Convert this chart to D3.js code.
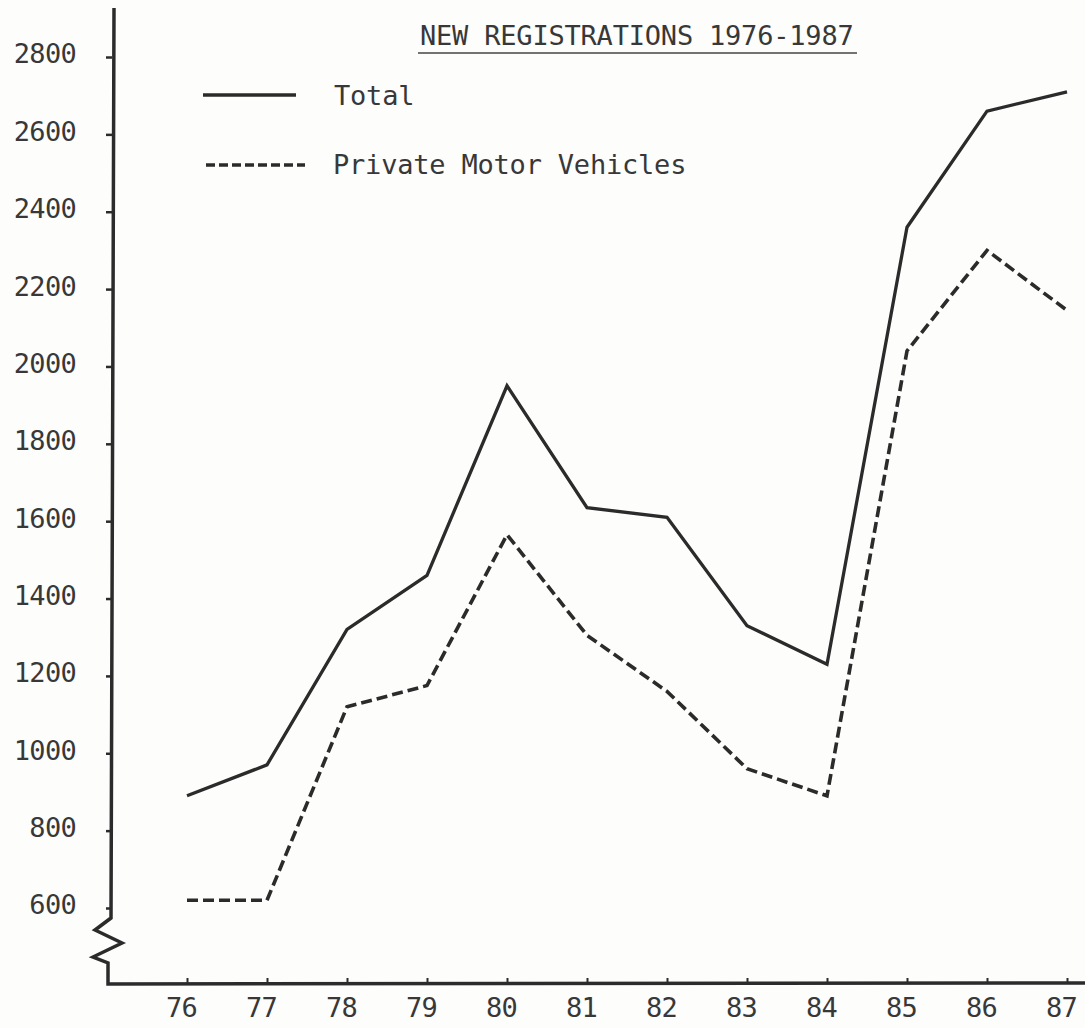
<!DOCTYPE html>
<html>
<head>
<meta charset="utf-8">
<script src="https://cdn.jsdelivr.net/npm/d3@7"></script>
<style>
  html, body { margin: 0; padding: 0; background: #fdfdfc; }
  svg { display: block; }
  text { font-family: "DejaVu Sans Mono", monospace; fill: #383838; }
</style>
</head>
<body>
<svg id="chart" width="1085" height="1028"></svg>
<script>
// ---- Data ----
const years = [76, 77, 78, 79, 80, 81, 82, 83, 84, 85, 86, 87];
const totalValues   = [890, 970, 1320, 1460, 1950, 1635, 1610, 1330, 1230, 2360, 2660, 2710];
const privateValues = [620, 620, 1120, 1175, 1565, 1305, 1160, 960, 890, 2040, 2300, 2145];
const yTickValues = [600, 800, 1000, 1200, 1400, 1600, 1800, 2000, 2200, 2400, 2600, 2800];
const seriesNames = ["Total", "Private Motor Vehicles"];
const titleText = "NEW REGISTRATIONS 1976-1987";

const svg = d3.select("#chart");
const ink = "#2b2b2b";
const fontSize = 27;

const x = d3.scaleLinear().domain([76, 87]).range([187, 1067]);
const y = d3.scaleLinear().domain([600, 2800]).range([908, 57]);

const axisX = 112;
const axisY = 984;

// ---- Title ----
svg.append("text")
  .attr("x", 420).attr("y", 45)
  .attr("font-size", fontSize)
  .attr("letter-spacing", -0.2)
  .text(titleText);
svg.append("line")
  .attr("x1", 418).attr("x2", 857)
  .attr("y1", 53).attr("y2", 53)
  .attr("stroke", "#444").attr("stroke-width", 1.6);

// ---- Axis lines (with break) ----
const yAxisPath = d3.path();
yAxisPath.moveTo(axisX + 2, 8);
yAxisPath.lineTo(axisX - 1, y(600) + 10);
yAxisPath.lineTo(95, y(600) + 22);
yAxisPath.lineTo(122, y(600) + 35);
yAxisPath.lineTo(93, y(600) + 49);
yAxisPath.lineTo(axisX - 4, y(600) + 55);
yAxisPath.lineTo(axisX - 4, axisY);
yAxisPath.lineTo(1085, axisY - 1);
svg.append("path")
  .attr("d", yAxisPath.toString())
  .attr("fill", "none")
  .attr("stroke", ink)
  .attr("stroke-width", 3.5)
  .attr("stroke-linejoin", "miter");

const yAxis = d3.axisLeft(y).tickValues(yTickValues).tickSize(6).tickPadding(30).tickFormat(d3.format("d"));
const gy = svg.append("g").attr("transform", `translate(${axisX},0)`).call(yAxis);
gy.select(".domain").remove();
gy.selectAll(".tick line").attr("stroke", ink).attr("stroke-width", 2.5);
gy.selectAll(".tick text")
  .attr("font-size", fontSize)
  .attr("letter-spacing", -0.7)
  .attr("dy", "0.22em")
  .attr("font-family", "'DejaVu Sans Mono', monospace")
  .attr("fill", "#383838");

// ---- X axis ticks ----
const xAxis = d3.axisBottom(x).tickValues(years).tickSize(-6).tickPadding(14).tickFormat(d => d);
const gx = svg.append("g").attr("transform", `translate(0,${axisY})`).call(xAxis);
gx.select(".domain").remove();
gx.selectAll(".tick line").attr("stroke", ink).attr("stroke-width", 2);
gx.selectAll(".tick text")
  .attr("font-size", fontSize)
  .attr("letter-spacing", -0.7)
  .attr("dx", -6)
  .attr("font-family", "'DejaVu Sans Mono', monospace")
  .attr("fill", "#383838");

// ---- Lines ----
const line = d3.line().x((d, i) => x(years[i])).y(d => y(d));

svg.append("path")
  .datum(totalValues)
  .attr("d", line)
  .attr("fill", "none")
  .attr("stroke", ink)
  .attr("stroke-width", 3.3)
  .attr("stroke-linejoin", "miter");

svg.append("path")
  .datum(privateValues)
  .attr("d", line)
  .attr("fill", "none")
  .attr("stroke", ink)
  .attr("stroke-width", 3.6)
  .attr("stroke-dasharray", "11,5")
  .attr("stroke-linejoin", "miter");

// ---- Legend ----
const legend = svg.append("g");
legend.append("line")
  .attr("x1", 203).attr("x2", 296).attr("y1", 95).attr("y2", 95)
  .attr("stroke", ink).attr("stroke-width", 3.3);
legend.append("text")
  .attr("x", 334).attr("y", 105)
  .attr("font-size", fontSize).attr("letter-spacing", -0.2)
  .text(seriesNames[0]);
legend.append("line")
  .attr("x1", 206).attr("x2", 305).attr("y1", 165).attr("y2", 165)
  .attr("stroke", ink).attr("stroke-width", 3.6)
  .attr("stroke-dasharray", "9,4");
legend.append("text")
  .attr("x", 333).attr("y", 174)
  .attr("font-size", fontSize).attr("letter-spacing", -0.2)
  .text(seriesNames[1]);
</script>
</body>
</html>
